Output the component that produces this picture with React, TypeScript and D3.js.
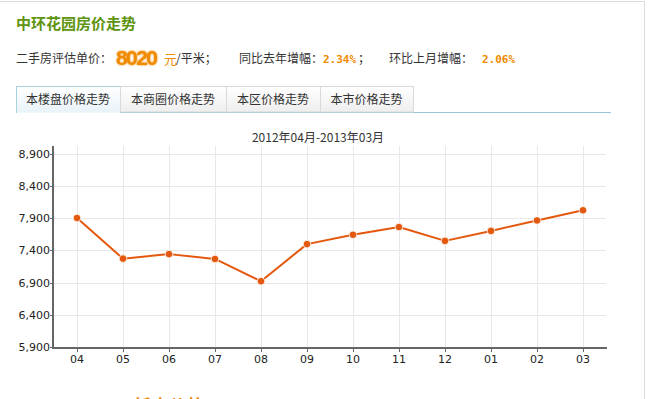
import React from 'react';
import * as d3 from 'd3';

const months = ['04', '05', '06', '07', '08', '09', '10', '11', '12', '01', '02', '03'];
const prices = [7900, 7270, 7340, 7265, 6920, 7495, 7640, 7760, 7545, 7700, 7862, 8020];
const yTicks = [5900, 6400, 6900, 7400, 7900, 8400, 8900];
const tabs = ['本楼盘价格走势', '本商圈价格走势', '本区价格走势', '本市价格走势'];
const tabEdges = [16, 120, 226, 320, 413];

const W = 649;
const H = 399;
const cn = '"Noto Sans CJK SC", sans-serif';
const orange = '#f08a00';
const lineColor = '#e4580e';

const App: React.FC = () => {
  const plot = { left: 54, right: 606, top: 146, bottom: 347 };

  const x = d3.scaleBand<string>().domain(months).range([plot.left, plot.right]);
  const y = d3.scaleLinear().domain([5900, 8900]).range([plot.bottom, 153.5]);
  const fmt = d3.format(',');

  const line = d3
    .line<number>()
    .x((_, i) => x(months[i])! + x.bandwidth() / 2)
    .y(d => y(d));

  return (
    <div style={{ position: 'absolute', left: 0, top: 0 }}>
      <svg width={W} height={H} style={{ display: 'block', background: '#fff' }}>
        <defs>
          <linearGradient id="tabOn" x1="0" y1="0" x2="0" y2="1">
            <stop offset="0" stopColor="#ffffff" />
            <stop offset="1" stopColor="#e8f3f8" />
          </linearGradient>
          <linearGradient id="tabOff" x1="0" y1="0" x2="0" y2="1">
            <stop offset="0" stopColor="#ffffff" />
            <stop offset="1" stopColor="#eeeeee" />
          </linearGradient>
          <filter id="glow" x="-20%" y="-20%" width="140%" height="140%">
            <feGaussianBlur stdDeviation="1.2" result="b" />
            <feMerge>
              <feMergeNode in="b" />
              <feMergeNode in="SourceGraphic" />
            </feMerge>
          </filter>
        </defs>

        {/* panel frame */}
        <line x1={0} x2={644.5} y1={1.5} y2={1.5} stroke="#dcdcdc" />
        <line x1={644.5} x2={644.5} y1={1} y2={H} stroke="#dcdcdc" />

        {/* header */}
        <text x={16} y={29} fontFamily={cn} fontSize={15} fontWeight="bold" fill="#5e9410">
          中环花园房价走势
        </text>
        <g fontFamily={cn} fontSize={12} fill="#333">
          <text x={16} y={63}>二手房评估单价：</text>
          <text x={116} y={65} fontFamily="'Liberation Sans', Arial, sans-serif" fontSize={21} fontWeight="bold"
            fill={orange} textLength={42} filter="url(#glow)">
            8020
          </text>
          <text x={164} y={64} fill={orange} fontSize={13}>元</text>
          <text x={176} y={63}>/平米；</text>
          <text x={239} y={63}>同比去年增幅：</text>
          <text x={323} y={63} fontFamily="'DejaVu Sans Mono', monospace" fontSize={11} fontWeight="bold" fill={orange}>2.34%</text>
          <text x={358} y={63}>；</text>
          <text x={389} y={63}>环比上月增幅：</text>
          <text x={482} y={63} fontFamily="'DejaVu Sans Mono', monospace" fontSize={11} fontWeight="bold" fill={orange}>2.06%</text>
        </g>

        {/* tabs */}
        <line x1={16} x2={611} y1={112.5} y2={112.5} stroke="#93c5d6" />
        {tabs.map((t, i) => {
          const x0 = tabEdges[i];
          const x1 = tabEdges[i + 1];
          const on = i === 0;
          return (
            <g key={t}>
              <rect x={x0 + 0.5} y={86.5} width={x1 - x0} height={on ? 26 : 25.5}
                fill={on ? 'url(#tabOn)' : 'url(#tabOff)'} stroke={on ? '#a9d2df' : '#d9d9d9'} />
              {on && <line x1={x0 + 1} x2={x1} y1={112.5} y2={112.5} stroke="#f0f7fa" />}
              <text x={(x0 + x1) / 2} y={104} textAnchor="middle" fontFamily={cn} fontSize={12} fill="#333">
                {t}
              </text>
            </g>
          );
        })}

        {/* chart title */}
        <text x={318} y={142} textAnchor="middle" fontFamily={cn} fontSize={12} fill="#333">
          2012年04月-2013年03月
        </text>

        {/* grid */}
        <g stroke="#e8e8e8" strokeWidth={1}>
          {yTicks.slice(1).map(v => (
            <line key={v} x1={plot.left} x2={plot.right} y1={Math.round(y(v)) + 0.5} y2={Math.round(y(v)) + 0.5} />
          ))}
          {months.map(m => {
            const cx = Math.round(x(m)! + x.bandwidth() / 2) + 0.5;
            return <line key={m} x1={cx} x2={cx} y1={plot.top} y2={plot.bottom} />;
          })}
        </g>

        {/* axes */}
        <g stroke="#666">
          <line x1={plot.left - 1} x2={plot.left - 1} y1={plot.top} y2={plot.bottom + 2} strokeWidth={2} />
          <line x1={plot.left - 2} x2={plot.right + 1} y1={plot.bottom + 1} y2={plot.bottom + 1} strokeWidth={2} />
          {yTicks.map(v => (
            <line key={v} x1={plot.left - 4} x2={plot.left - 1} y1={Math.round(y(v)) + 0.5} y2={Math.round(y(v)) + 0.5} />
          ))}
          {months.map(m => {
            const cx = Math.round(x(m)! + x.bandwidth() / 2) + 0.5;
            return <line key={m} x1={cx} x2={cx} y1={plot.bottom} y2={plot.bottom + 5} />;
          })}
        </g>
        <g fontFamily="'DejaVu Sans', Verdana, sans-serif" fontSize={11} fill="#222">
          {yTicks.map(v => (
            <text key={v} x={plot.left - 4} y={y(v) + 4} textAnchor="end">{fmt(v)}</text>
          ))}
          {months.map(m => (
            <text key={m} x={x(m)! + x.bandwidth() / 2} y={363} textAnchor="middle">{m}</text>
          ))}
        </g>

        {/* series */}
        <path d={line(prices)!} fill="none" stroke={lineColor} strokeWidth={2} strokeLinejoin="round" />
        {prices.map((v, i) => (
          <circle key={i} cx={x(months[i])! + x.bandwidth() / 2} cy={y(v)} r={3.8}
            fill={lineColor} stroke="#fff" strokeWidth={0.8} />
        ))}

        {/* next section, cut off at the bottom */}
        <g fontFamily={cn} fontSize={18} fontWeight="bold" fill={orange}>
          <text x={133} y={413}>新房价格</text>
          <text x={365} y={413} fontFamily="'Liberation Sans', Arial, sans-serif">1234</text>
        </g>
      </svg>
    </div>
  );
};

export default App;
